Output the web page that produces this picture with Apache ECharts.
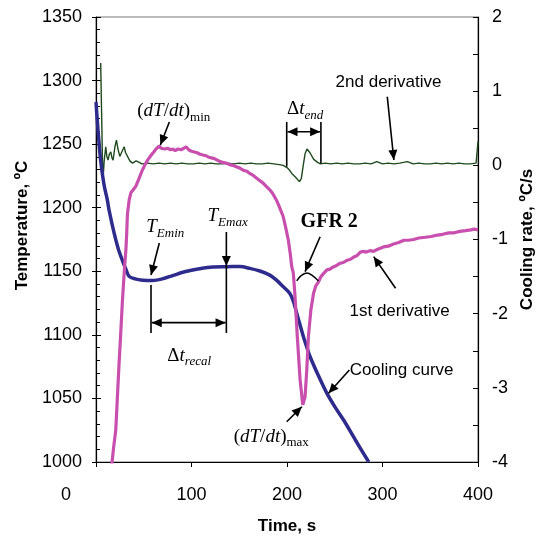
<!DOCTYPE html>
<html>
<head>
<meta charset="utf-8">
<script src="https://cdn.jsdelivr.net/npm/echarts@6.0.0/dist/echarts.min.js"></script>
<style>
  html, body { margin: 0; padding: 0; background: #fff; }
  #chart { width: 545px; height: 543px; }
</style>
</head>
<body>
<div id="chart"></div>
<script>
// Cooling curve: temperature (°C) against time (s)
const coolTime = [0, 2.1, 4.9, 8.4, 11.9, 13.7, 19, 23.2, 27.4, 31.6, 34.7, 41, 48.7, 59, 69.5, 80.3, 93.7, 108.4, 122, 136.5, 150.5, 161, 171.6, 182, 189, 195.8, 203, 206.8, 210.2, 213.7, 217.2, 220.7, 224.2, 232.6, 241.8, 250.5, 259.3, 271.6, 285.6];
const coolTemp = [1283, 1261, 1237, 1218, 1206, 1198, 1180, 1168, 1159, 1151, 1146, 1144, 1143, 1142.7, 1144, 1146.6, 1149.8, 1152, 1153.4, 1153.6, 1153.7, 1152.3, 1150.2, 1147, 1143, 1138, 1132.6, 1126, 1117, 1107.7, 1098.5, 1090.4, 1082.8, 1068.4, 1054, 1043, 1033, 1017.3, 1000];

// First derivative: cooling rate (°C/s)
const rate1Time = [16.5, 18.5, 20.7, 22.5, 24.2, 25.8, 27.7, 30, 31.3, 32.2, 32.9, 34.7, 36.5, 39, 41.8, 45, 48.7, 51, 54, 57.9, 60.5, 62.8, 64.5, 66.3, 68, 70, 72, 75, 78, 80.3, 83, 86, 89, 92, 94.4, 97, 100, 103, 106, 109, 112, 115, 118, 121, 124, 127, 130, 132.6, 136, 140, 143, 147, 151, 155, 158, 161, 165, 168, 171, 175, 178, 182, 185, 189, 192, 196, 199, 201.4, 203.5, 205, 206.6, 208.4, 210.8, 213.7, 216.5, 218.9, 220.7, 222.4, 225, 227.7, 230, 233, 235.5, 238.2, 241.8, 245, 248.4, 252, 255.8, 259, 262.8, 266, 269.5, 273, 276.8, 280, 283, 287, 290.8, 295, 301, 306, 311.6, 317, 322.4, 327, 332.6, 338, 345, 351, 357.6, 363, 369.5, 375, 381, 387, 392.6, 396, 400];
const rate1Val = [-4.04, -3.8, -3.57, -3.1, -2.66, -2.29, -1.82, -1.36, -1.14, -0.9, -0.66, -0.47, -0.37, -0.33, -0.28, -0.18, -0.06, 0, 0.07, 0.14, 0.18, 0.22, 0.24, 0.26, 0.23, 0.25, 0.22, 0.23, 0.21, 0.22, 0.2, 0.22, 0.21, 0.23, 0.25, 0.21, 0.19, 0.18, 0.17, 0.15, 0.14, 0.13, 0.11, 0.1, 0.09, 0.07, 0.05, 0.04, 0.03, 0.01, 0, -0.02, -0.04, -0.07, -0.08, -0.11, -0.14, -0.17, -0.2, -0.24, -0.28, -0.33, -0.38, -0.47, -0.56, -0.69, -0.86, -1.01, -1.2, -1.37, -1.45, -1.77, -2.31, -2.89, -3.23, -3.12, -2.76, -2.31, -1.95, -1.73, -1.63, -1.57, -1.5, -1.46, -1.41, -1.4, -1.37, -1.35, -1.32, -1.31, -1.28, -1.27, -1.24, -1.22, -1.17, -1.16, -1.17, -1.15, -1.16, -1.13, -1.1, -1.09, -1.06, -1.04, -1.01, -1.01, -1, -0.98, -0.97, -0.96, -0.94, -0.93, -0.91, -0.91, -0.89, -0.88, -0.87, -0.86, -0.87];

// Second derivative, plotted on the cooling-rate axis
const rate2Time = [4.9, 7.2, 8.5, 10.2, 11.4, 12.6, 14, 15.5, 16.7, 17.9, 19.8, 21.4, 23, 24.9, 27, 29.5, 31, 33, 35.5, 38.2, 42, 45.3, 48, 54, 60, 66, 72, 78, 84, 90, 96, 102, 108, 114, 120, 126, 132, 138, 144, 150, 156, 162, 168, 174, 180, 186, 192, 196, 200, 203, 205, 209, 213, 215, 217, 219, 221, 224, 228, 232, 235, 240, 246, 252, 258, 264, 270, 276, 282, 288, 294, 300, 306, 312, 318, 326, 332, 338, 344, 350, 356, 362, 368, 374, 380, 386, 392, 398, 400];
const rate2Val = [1.38, -0.23, 0.05, 0.25, 0.12, 0.07, 0.15, 0.18, 0.1, 0.07, 0.25, 0.34, 0.22, 0.12, 0.18, 0.25, 0.17, 0.12, 0.06, 0.03, 0.06, 0.04, 0.02, 0.03, 0.02, 0.03, 0.02, 0.03, 0.02, 0.03, 0.02, 0.02, 0.03, 0.02, 0.03, 0.02, 0.02, 0.03, 0.02, 0.03, 0.02, 0.03, 0.02, 0.02, 0.03, 0.02, 0.01, 0, -0.03, -0.07, -0.11, -0.16, -0.22, -0.18, 0, 0.16, 0.22, 0.17, 0.08, 0.04, 0.02, 0.03, 0.02, 0.03, 0.02, 0.03, 0.02, 0.02, 0.03, 0.02, 0.05, 0.02, 0.03, 0.02, 0.03, 0.05, 0.02, 0.03, 0.02, 0.02, 0.03, 0.02, 0.03, 0.02, 0.03, 0.02, 0.02, 0.03, 0.32];

const timeTicks = [0, 100, 200, 300, 400];
const tempTicks = [1000, 1050, 1100, 1150, 1200, 1250, 1300, 1350];
const rateTicks = [-4, -3, -2, -1, 0, 1, 2];

const SANS = 'Liberation Sans, Arial, sans-serif';
const SERIF = 'Liberation Serif, Times New Roman, serif';

const zip = (a, b) => a.map((v, i) => [v, b[i]]);
const plain = v => String(v);

const chart = echarts.init(document.getElementById('chart'), null, { renderer: 'canvas' });

const tempRange = { min: tempTicks[0], max: tempTicks[tempTicks.length - 1], interval: 50 };

chart.setOption({
  animation: false,
  backgroundColor: '#fff',
  grid: { left: 96, right: 67, top: 17, bottom: 81, show: true, borderColor: '#777', borderWidth: 1 },
  xAxis: {
    type: 'value',
    min: timeTicks[0], max: timeTicks[timeTicks.length - 1], interval: 100,
    name: 'Time, s', nameLocation: 'middle', nameGap: 56,
    nameTextStyle: { fontFamily: SANS, fontWeight: 'bold', fontSize: 17, color: '#000' },
    axisLine: { onZero: false, lineStyle: { color: '#000', width: 1.2 } },
    axisTick: { inside: false, length: 5, lineStyle: { color: '#000' } },
    splitLine: { show: false },
    axisLabel: {
      margin: 24, fontFamily: SANS, fontSize: 18, color: '#000',
      formatter: v => v === 0 ? '{z|0}' : plain(v),
      rich: { z: { fontFamily: SANS, fontSize: 18, color: '#000', padding: [0, 60, 0, 0] } }
    }
  },
  yAxis: [
    Object.assign({
      type: 'value', position: 'left',
      name: 'Temperature, ºC', nameLocation: 'middle', nameGap: 58, nameRotate: 90,
      nameTextStyle: { fontFamily: SANS, fontWeight: 'bold', fontSize: 17, color: '#000', padding: [0, 0, 0, 28] },
      axisLine: { show: true, onZero: false, lineStyle: { color: '#000', width: 1.2 } },
      axisTick: { show: true, inside: true, length: 5, lineStyle: { color: '#000' } },
      minorTick: { show: true, splitNumber: 5, length: 4, lineStyle: { color: '#000' } },
      splitLine: { show: false },
      axisLabel: { margin: 14, fontFamily: SANS, fontSize: 18, color: '#000', formatter: plain }
    }, tempRange),
    {
      type: 'value', position: 'right',
      min: rateTicks[0], max: rateTicks[rateTicks.length - 1], interval: 1,
      name: 'Cooling rate, ºC/s', nameLocation: 'middle', nameGap: 40, nameRotate: 90,
      nameTextStyle: { fontFamily: SANS, fontWeight: 'bold', fontSize: 17, color: '#000' },
      axisLine: { show: true, onZero: false, lineStyle: { color: '#000', width: 1.2 } },
      axisTick: { show: true, inside: true, length: 5, lineStyle: { color: '#000' } },
      minorTick: { show: true, splitNumber: 2, length: 5, lineStyle: { color: '#000' } },
      splitLine: { show: false },
      axisLabel: { margin: 14, fontFamily: SANS, fontSize: 18, color: '#000', formatter: plain }
    },
    // outer half of the crossing major ticks on the temperature axis
    Object.assign({
      type: 'value', position: 'left',
      axisLine: { show: false, onZero: false },
      axisTick: { show: true, inside: false, length: 4, lineStyle: { color: '#000' } },
      axisLabel: { show: false }, splitLine: { show: false }
    }, tempRange)
  ],
  series: [
    {
      name: '2nd derivative', type: 'line', yAxisIndex: 1, showSymbol: false,
      data: zip(rate2Time, rate2Val),
      lineStyle: { color: '#1e4a1e', width: 1.4 }, z: 2
    },
    {
      name: 'Cooling curve', type: 'line', yAxisIndex: 0, showSymbol: false, smooth: 0.3,
      data: zip(coolTime, coolTemp),
      lineStyle: { color: '#2d2b8c', width: 3.5 }, z: 3
    },
    {
      name: '1st derivative', type: 'line', yAxisIndex: 1, showSymbol: false,
      data: zip(rate1Time, rate1Val),
      lineStyle: { color: '#c84fae', width: 3.2 }, z: 4
    }
  ]
});

// ---- annotations, anchored in (time, temperature) coordinates ----
const px = p => chart.convertToPixel({ xAxisIndex: 0, yAxisIndex: 0 }, p);

const measureCtx = document.createElement('canvas').getContext('2d');
function textWidth(str, font) { measureCtx.font = font; return measureCtx.measureText(str).width; }

const g = [];
function line(a, b, w) {
  const p = px(a), q = px(b);
  g.push({ type: 'line', shape: { x1: p[0], y1: p[1], x2: q[0], y2: q[1] }, style: { stroke: '#000', lineWidth: w || 1.5 }, z: 100 });
}
function head(tip, from) {
  const t = px(tip), f = px(from);
  const dx = t[0] - f[0], dy = t[1] - f[1], L = Math.hypot(dx, dy);
  const ux = dx / L, uy = dy / L, len = 10, hw = 4.5;
  const bx = t[0] - ux * len, by = t[1] - uy * len;
  g.push({ type: 'polygon', shape: { points: [[t[0], t[1]], [bx - uy * hw, by + ux * hw], [bx + uy * hw, by - ux * hw]] }, style: { fill: '#000' }, z: 101 });
}
function arrow(from, to) { line(from, to, 1.6); head(to, from); }
function doubleArrow(a, b) { line(a, b, 1.6); head(a, b); head(b, a); }
function plainText(pos, str, opts) {
  const p = px(pos);
  g.push({ type: 'text', x: p[0], y: p[1], z: 102, style: Object.assign({
    text: str, fill: '#000', fontFamily: SANS, fontSize: 17, align: 'center', verticalAlign: 'middle'
  }, opts || {}) });
}
// Inline math: parts are [text, kind]; kinds: r roman, i italic, s italic subscript, sr roman subscript
function mathText(pos, parts, size) {
  const p = px(pos);
  let x = p[0];
  parts.forEach(([str, kind]) => {
    const sub = kind === 's' || kind === 'sr';
    const fs = sub ? Math.round(size * 0.68) : size;
    const style = (kind === 'i' || kind === 's') ? 'italic' : 'normal';
    const font = style + ' ' + fs + 'px ' + SERIF;
    g.push({ type: 'text', x: x, y: p[1] + (sub ? size * 0.32 : 0), z: 102, style: {
      text: str, fill: '#000', fontFamily: SERIF, fontSize: fs, fontStyle: style,
      align: 'left', verticalAlign: 'middle'
    } });
    x += textWidth(str, font);
  });
}

// (dT/dt)min
mathText([43.2, 1276], [['(', 'r'], ['dT', 'i'], ['/', 'r'], ['dt', 'i'], [')', 'r'], ['min', 'sr']], 19);
arrow([76.8, 1267.4], [67.4, 1249.3]);

// 2nd derivative
plainText([306.3, 1298.9], '2nd derivative');
arrow([305, 1287.3], [311.9, 1237.5]);

// Δt_end
mathText([200, 1277.6], [['Δ', 'r'], ['t', 'i'], ['end', 's']], 19);
line([199.7, 1267.4], [199.7, 1232.3], 1.6);
line([235.5, 1267.4], [235.5, 1234.7], 1.6);
doubleArrow([200.5, 1259.8], [234.7, 1259.8]);

// T_Emin / T_Emax and the recalescence interval
mathText([52.6, 1184.8], [['T', 'i'], ['Emin', 's']], 19);
arrow([66.3, 1172.2], [57.6, 1147.1]);
mathText([116.8, 1193.4], [['T', 'i'], ['Emax', 's']], 19);
line([136.5, 1180.9], [136.5, 1101.5], 1.6);
head([136.5, 1154.2], [136.5, 1180.9]);
line([57.6, 1139.2], [57.6, 1101.5], 1.6);
doubleArrow([58.4, 1109.6], [135.7, 1109.6]);
mathText([74.7, 1083.4], [['Δ', 'r'], ['t', 'i'], ['recal', 's']], 19);

// GFR 2
plainText([244.2, 1188.8], 'GFR 2', { fontFamily: SERIF, fontWeight: 'bold', fontSize: 20 });
arrow([234.7, 1177.2], [218.9, 1149.7]);
(function brace() {
  const pts = [[210.2, 1142.4], [214.5, 1146.4], [220.7, 1148.6], [227, 1146.4], [232.9, 1142.4]].map(px);
  g.push({ type: 'polyline', shape: { points: pts, smooth: 0.4 }, style: { stroke: '#000', lineWidth: 1.5, fill: null }, z: 100 });
})();

// 1st derivative
plainText([317.9, 1118.8], '1st derivative');
arrow([313.7, 1136.6], [290.8, 1161.5]);

// Cooling curve
plainText([320, 1072.4], 'Cooling curve');
arrow([265.3, 1072.4], [243.5, 1054]);

// (dT/dt)max
mathText([144.2, 1019.7], [['(', 'r'], ['dT', 'i'], ['/', 'r'], ['dt', 'i'], [')', 'r'], ['max', 'sr']], 19);
arrow([199.7, 1031.7], [215.5, 1043.5]);

chart.setOption({ graphic: { elements: g } });
</script>
</body>
</html>
